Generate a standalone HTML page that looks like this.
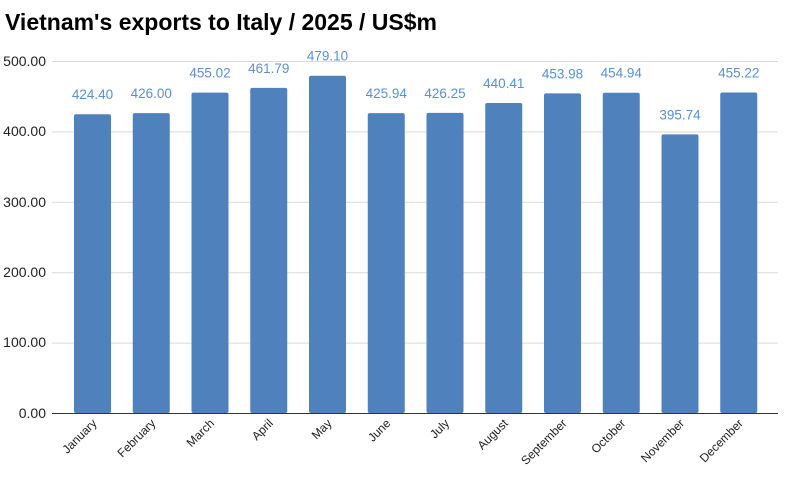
<!DOCTYPE html>
<html><head><meta charset="utf-8"><style>
html,body{margin:0;padding:0;background:#fff;}
svg{display:block;font-family:"Liberation Sans",Arial,sans-serif;}
</style></head><body>
<svg width="786" height="485" viewBox="0 0 786 485" xmlns="http://www.w3.org/2000/svg">
<text x="5" y="30" font-size="23" font-weight="bold" fill="#000">Vietnam's exports to Italy / 2025 / US$m</text>
<g stroke="#d9d9d9" stroke-width="1">
<line x1="52" x2="778" y1="61.5" y2="61.5"/>
<line x1="52" x2="778" y1="131.9" y2="131.9"/>
<line x1="52" x2="778" y1="202.3" y2="202.3"/>
<line x1="52" x2="778" y1="272.7" y2="272.7"/>
<line x1="52" x2="778" y1="343.1" y2="343.1"/>
</g>
<g font-size="14" fill="#222" text-anchor="end">
<text x="46" y="66">500.00</text>
<text x="46" y="136">400.00</text>
<text x="46" y="207">300.00</text>
<text x="46" y="277">200.00</text>
<text x="46" y="347">100.00</text>
<text x="46" y="418">0.00</text>
</g>
<g fill="#4f81bd">
<rect x="74" y="114.22" width="37" height="298.78" rx="2"/>
<rect x="132.75" y="113.10" width="37" height="299.90" rx="2"/>
<rect x="191.5" y="92.67" width="37" height="320.33" rx="2"/>
<rect x="250.25" y="87.90" width="37" height="325.10" rx="2"/>
<rect x="309" y="75.71" width="37" height="337.29" rx="2"/>
<rect x="367.75" y="113.14" width="37" height="299.86" rx="2"/>
<rect x="426.5" y="112.92" width="37" height="300.08" rx="2"/>
<rect x="485.25" y="102.95" width="37" height="310.05" rx="2"/>
<rect x="544" y="93.40" width="37" height="319.60" rx="2"/>
<rect x="602.75" y="92.72" width="37" height="320.28" rx="2"/>
<rect x="661.5" y="134.40" width="37" height="278.60" rx="2"/>
<rect x="720.25" y="92.53" width="37" height="320.47" rx="2"/>
</g>
<g font-size="13.5" fill="#5b8fd0" text-anchor="middle">
<text x="92.5" y="99.2">424.40</text>
<text x="151.25" y="98.1">426.00</text>
<text x="210" y="77.7">455.02</text>
<text x="268.75" y="72.9">461.79</text>
<text x="327.5" y="60.7">479.10</text>
<text x="386.25" y="98.1">425.94</text>
<text x="445" y="97.9">426.25</text>
<text x="503.75" y="88">440.41</text>
<text x="562.5" y="78.4">453.98</text>
<text x="621.25" y="77.7">454.94</text>
<text x="680" y="119.4">395.74</text>
<text x="738.75" y="77.5">455.22</text>
</g>
<line x1="52" x2="778" y1="413.5" y2="413.5" stroke="#333" stroke-width="1"/>
<g font-size="12" fill="#222" text-anchor="end">
<text transform="translate(97.5,424) rotate(-45)">January</text>
<text transform="translate(156.25,424) rotate(-45)">February</text>
<text transform="translate(215,424) rotate(-45)">March</text>
<text transform="translate(273.75,424) rotate(-45)">April</text>
<text transform="translate(332.5,424) rotate(-45)">May</text>
<text transform="translate(391.25,424) rotate(-45)">June</text>
<text transform="translate(450,424) rotate(-45)">July</text>
<text transform="translate(508.75,424) rotate(-45)">August</text>
<text transform="translate(567.5,424) rotate(-45)">September</text>
<text transform="translate(626.25,424) rotate(-45)">October</text>
<text transform="translate(685,424) rotate(-45)">November</text>
<text transform="translate(743.75,424) rotate(-45)">December</text>
</g>
</svg>
</body></html>
